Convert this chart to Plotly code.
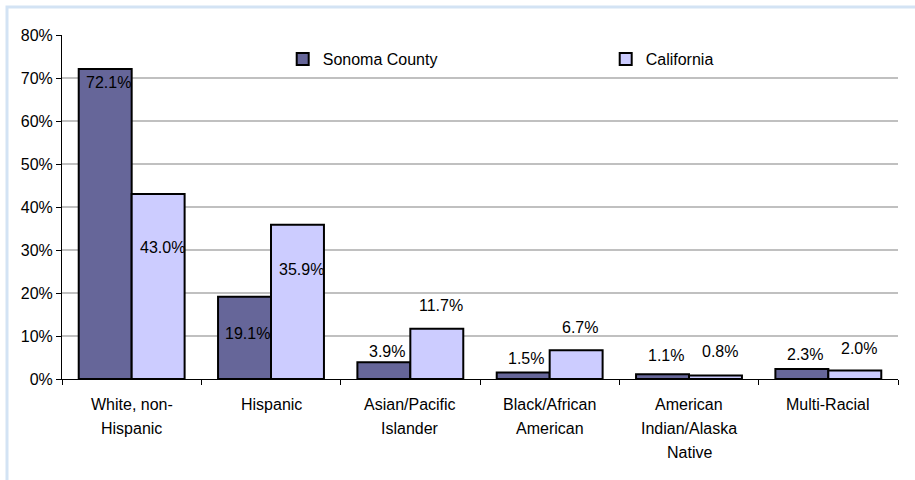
import plotly.graph_objects as go

categories = ["White, non-Hispanic", "Hispanic", "Asian/Pacific Islander",
              "Black/African American", "American Indian/Alaska Native", "Multi-Racial"]
category_lines = [["White, non-", "Hispanic"], ["Hispanic"], ["Asian/Pacific", "Islander"],
                  ["Black/African", "American"], ["American", "Indian/Alaska", "Native"], ["Multi-Racial"]]
sonoma = [72.1, 19.1, 3.9, 1.5, 1.1, 2.3]
california = [43.0, 35.9, 11.7, 6.7, 0.8, 2.0]
y_ticks = [0, 10, 20, 30, 40, 50, 60, 70, 80]

# label pixel offsets relative to bar top (style only)
sonoma_label_shift = [-14, -37, 11, 14, 19, 15]
california_label_shift = [-53, -45, 23, 23, 24, 22]

FONT = "Liberation Sans, Arial, sans-serif"

fig = go.Figure()
fig.add_trace(go.Bar(x=categories, y=sonoma, name="Sonoma County",
                     marker=dict(color="#666699", line=dict(color="black", width=2)),
                     hoverinfo="skip"))
fig.add_trace(go.Bar(x=categories, y=california, name="California",
                     marker=dict(color="#ccccff", line=dict(color="black", width=2)),
                     hoverinfo="skip"))

annotations = []
for cat, v, s in zip(categories, sonoma, sonoma_label_shift):
    annotations.append(dict(x=cat, y=v, xref="x", yref="y", text=f"{v:.1f}%", showarrow=False,
                            xshift=-26.5 + 3, yshift=s, yanchor="middle",
                            font=dict(family=FONT, size=16, color="black")))
for cat, v, s in zip(categories, california, california_label_shift):
    annotations.append(dict(x=cat, y=v, xref="x", yref="y", text=f"{v:.1f}%", showarrow=False,
                            xshift=26.5 + 4, yshift=s, yanchor="middle",
                            font=dict(family=FONT, size=16, color="black")))
for cat, lines in zip(categories, category_lines):
    for i, line in enumerate(lines):
        annotations.append(dict(x=cat, y=0, xref="x", yref="y", text=line, showarrow=False,
                                yshift=-25 - 24 * i, yanchor="middle",
                                font=dict(family=FONT, size=16, color="black")))

fig.update_layout(
    width=915, height=480,
    margin=dict(l=62, r=17, t=35, b=101, autoexpand=False),
    paper_bgcolor="white", plot_bgcolor="white",
    barmode="group", bargap=0.24, bargroupgap=0,
    font=dict(family=FONT, size=16, color="black"),
    showlegend=True,
    legend=dict(orientation="h", x=0.264, xanchor="left", y=0.93, yanchor="middle",
                entrywidth=278, entrywidthmode="pixels",
                font=dict(family=FONT, size=16, color="black"),
                bgcolor="rgba(0,0,0,0)", itemwidth=30, traceorder="normal"),
    xaxis=dict(showticklabels=False, showline=True, linecolor="black", linewidth=1,
               ticks="outside", tickson="boundaries", ticklen=5, tickcolor="black",
               showgrid=False, zeroline=False, fixedrange=True),
    yaxis=dict(range=[0, 80], tickvals=y_ticks, ticktext=[f"{t}%" for t in y_ticks],
               showline=True, linecolor="black", linewidth=1,
               ticks="outside", ticklen=5, tickcolor="black",
               showgrid=True, gridcolor="#c0c0c0", gridwidth=1.5, zeroline=False,
               tickfont=dict(family=FONT, size=16, color="black")),
    annotations=annotations,
    shapes=[dict(type="rect", xref="paper", yref="paper",
                 x0=(7 - 62) / 836, x1=1.2, y0=-0.5, y1=1 + (35 - 7) / 344,
                 line=dict(color="#d3e3f4", width=3), fillcolor="rgba(0,0,0,0)", layer="below")],
)

fig.write_html("out.html")
